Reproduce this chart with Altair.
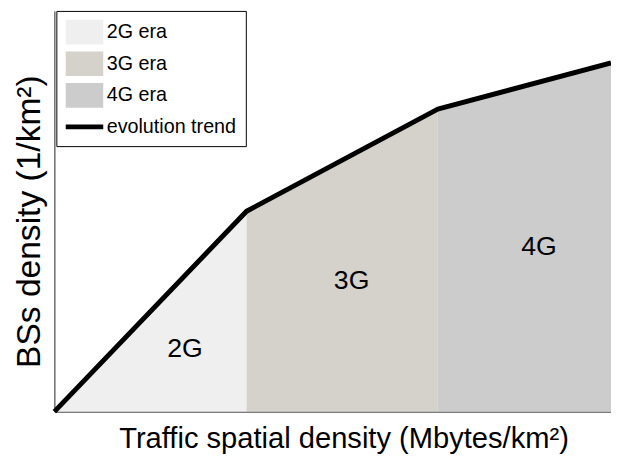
import altair as alt
import pandas as pd

# Trend breakpoints (arbitrary units)
trend_x = [0.0, 1.015, 2.025, 2.94]
trend_y = [0.0, 1.0, 1.51, 1.74]

eras = ["2G era", "3G era", "4G era"]
trend_name = "evolution trend"
era_colors = ["#efefef", "#d5d1cb", "#cccccc"]

region_labels = ["2G", "3G", "4G"]
region_label_x = [0.69, 1.57, 2.56]
region_label_y = [0.31, 0.65, 0.82]

x_title = "Traffic spatial density (Mbytes/km²)"
y_title = "BSs density (1/km²)"

FONT = "Liberation Sans"
series_all = eras + [trend_name]

# Build tables
area_rows = []
for i, era in enumerate(eras):
    area_rows.append({"x": trend_x[i], "top": trend_y[i], "base": 0.0, "series": era})
    area_rows.append({"x": trend_x[i + 1], "top": trend_y[i + 1], "base": 0.0, "series": era})
area_df = pd.DataFrame(area_rows)

line_df = pd.DataFrame({"x": trend_x, "y": trend_y, "series": [trend_name] * len(trend_x),
                        "ord": list(range(len(trend_x)))})

# legend-only entries (no position -> not drawn)
key_df = pd.DataFrame({"series": series_all, "x": [None] * 4, "y": [None] * 4})

label_df = pd.DataFrame({"x": region_label_x, "y": region_label_y, "label": region_labels})

xscale = alt.Scale(domain=[0, trend_x[-1]], nice=False)
yscale = alt.Scale(domain=[0, 2.0], nice=False)

color_scale = alt.Scale(domain=series_all, range=era_colors + ["#000000"])

rect_path = "M-1.52,-1H1.52V1H-1.52Z"
line_path = "M-1.52,-0.2H1.52V0.2H-1.52Z"
shape_scale = alt.Scale(domain=series_all, range=[rect_path] * 3 + [line_path])

legend = alt.Legend(
    title=None,
    orient="none",
    legendX=2,
    legendY=0,
    symbolSize=625,
    symbolStrokeWidth=0,
    symbolOpacity=1,
    symbolOffset=7,
    labelFont=FONT,
    labelFontSize=20,
    labelColor="black",
    labelOffset=10,
    rowPadding=7,
    padding=9,
    strokeColor="black",
    fillColor="white",
)

areas = alt.Chart(area_df).mark_area(opacity=1).encode(
    x=alt.X("x:Q", scale=xscale, axis=alt.Axis(title=x_title)),
    y=alt.Y("top:Q", scale=yscale, axis=alt.Axis(title=y_title)),
    y2="base:Q",
    color=alt.Color("series:N", scale=color_scale, legend=legend, sort=series_all),
)

line = alt.Chart(line_df).mark_line(strokeWidth=5, strokeJoin="round").encode(
    x=alt.X("x:Q", scale=xscale),
    y=alt.Y("y:Q", scale=yscale),
    color=alt.Color("series:N", scale=color_scale, legend=legend, sort=series_all),
    order="ord:Q",
)

keys = alt.Chart(key_df).mark_point(filled=True, opacity=1, strokeWidth=0).encode(
    x=alt.X("x:Q", scale=xscale),
    y=alt.Y("y:Q", scale=yscale),
    color=alt.Color("series:N", scale=color_scale, legend=legend, sort=series_all),
    shape=alt.Shape("series:N", scale=shape_scale, legend=legend, sort=series_all),
)

texts = alt.Chart(label_df).mark_text(font=FONT, fontSize=27, color="black",
                                      align="center", baseline="middle").encode(
    x=alt.X("x:Q", scale=xscale),
    y=alt.Y("y:Q", scale=yscale),
    text="label:N",
)

chart = alt.layer(areas, line, keys, texts).properties(
    width=564,
    height=406,
    autosize=alt.AutoSizeParams(type="none"),
    padding={"left": 47, "top": 0, "right": 0, "bottom": 40},
    background="white",
).configure_view(stroke=None).configure_axis(
    domainColor="#222222",
    domainWidth=1,
    ticks=False,
    labels=False,
    grid=False,
    titleFont=FONT,
    titleFontWeight="normal",
    titleColor="black",
).configure_axisX(
    titleFontSize=29.5,
    titlePadding=13,
    titleX=293,
    titleAlign="center",
).configure_axisY(
    titleFontSize=34,
    titlePadding=8,
    titleY=213,
    titleAlign="center",
)

chart.save("out.html", embed_options={"renderer": "svg", "actions": False})
